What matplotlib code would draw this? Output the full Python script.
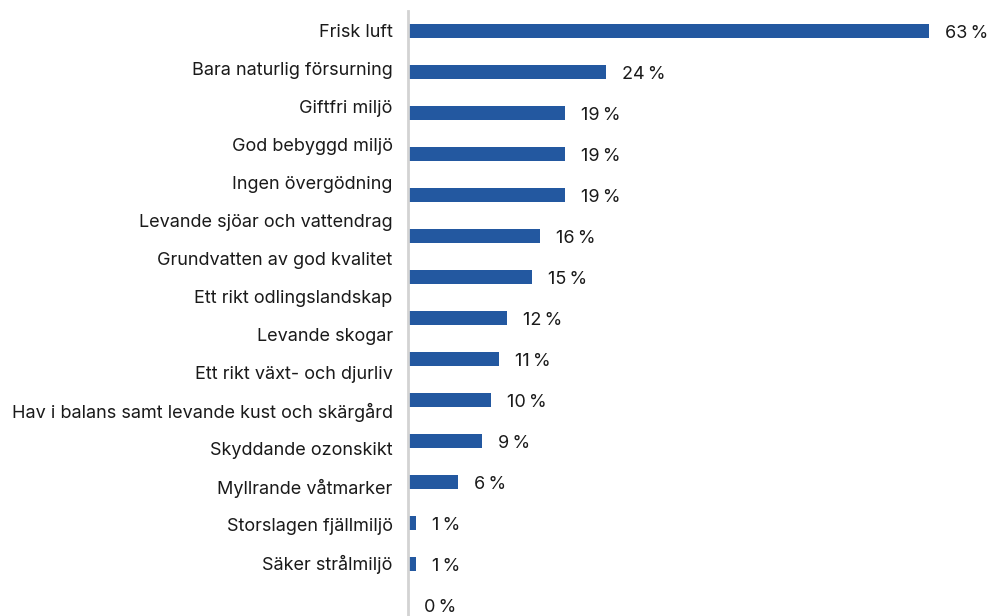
import matplotlib.pyplot as plt

# Miljömål och andel svar
goals = [
    "Frisk luft",
    "Bara naturlig försurning",
    "Giftfri miljö",
    "God bebyggd miljö",
    "Ingen övergödning",
    "Levande sjöar och vattendrag",
    "Grundvatten av god kvalitet",
    "Ett rikt odlingslandskap",
    "Levande skogar",
    "Ett rikt växt- och djurliv",
    "Hav i balans samt levande kust och skärgård",
    "Skyddande ozonskikt",
    "Myllrande våtmarker",
    "Storslagen fjällmiljö",
    "Säker strålmiljö",
]
shares = [63, 24, 19, 19, 19, 16, 15, 12, 11, 10, 9, 6, 1, 1, 0]

bar_color = "#2358a0"
text_color = "#1a1a1a"
plt.rcParams["font.family"] = ["Inter", "DejaVu Sans"]

W, H = 988, 616
fig = plt.figure(figsize=(W / 100, H / 100), dpi=100)
rect = [408 / W, 0, 521 / W, (H - 11) / H]

# bars
ax = fig.add_axes(rect)
pos = range(len(shares))
ax.barh(pos, shares, height=0.34, color=bar_color)
ax.set_xlim(0, 63)
ax.set_ylim(14 + 11 / 41, -20 / 41)
for i, v in enumerate(shares):
    ax.annotate(f"{v}\u2009%", (v, i), xytext=(11.5, -2), textcoords="offset points",
                ha="left", va="center", fontsize=13, color=text_color)
for s in ["top", "right", "bottom"]:
    ax.spines[s].set_visible(False)
ax.spines["left"].set_color("#d3d3d3")
ax.spines["left"].set_linewidth(2)
ax.set_xticks([])
ax.set_yticks([])

# category labels on a separate axes with their own spacing
ax_lab = fig.add_axes(rect, frameon=False)
ax_lab.set_ylim(14 + 54 / 37.93, -20 / 37.93)
ax_lab.set_xticks([])
ax_lab.set_yticks(range(len(goals)))
ax_lab.set_yticklabels(goals, fontsize=13, color=text_color)
ax_lab.tick_params(axis="y", length=0, pad=11)
ax_lab.patch.set_visible(False)

fig.savefig("out.png", dpi=100)
